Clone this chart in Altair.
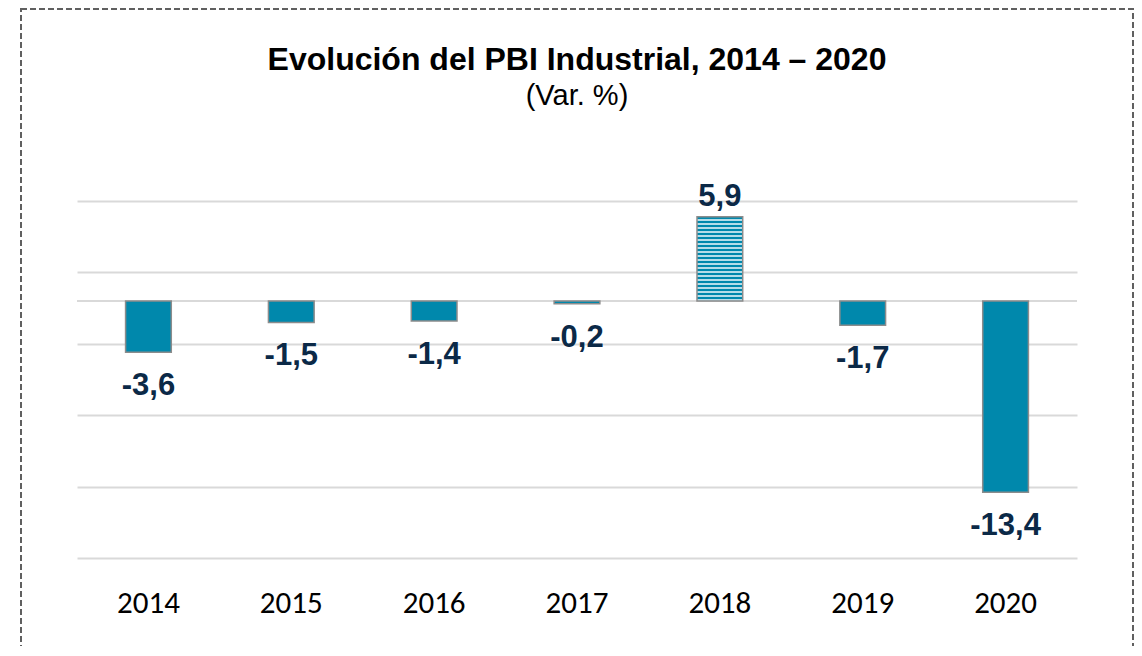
import altair as alt
import pandas as pd

years = ["2014", "2015", "2016", "2017", "2018", "2019", "2020"]
values = [-3.6, -1.5, -1.4, -0.2, 5.9, -1.7, -13.4]
grid_values = [7, 2, -3, -8, -13, -18]

df = pd.DataFrame({"year": years, "value": values})
df["label"] = [f"{v:.1f}".replace(".", ",") for v in values]

TEAL = "#0088AC"
LIGHT = "#B5DDE8"
LABEL_COLOR = "#0B2947"
BAR_STROKE = "#8C8C8C"

n_rows = 21
stops = []
for i in range(n_rows):
    a = i / n_rows
    b = (i + 0.55) / n_rows
    c = (i + 1) / n_rows
    stops += [
        alt.GradientStop(offset=a, color=TEAL),
        alt.GradientStop(offset=b, color=TEAL),
        alt.GradientStop(offset=b, color=LIGHT),
        alt.GradientStop(offset=c, color=LIGHT),
    ]
pattern = alt.LinearGradient(gradient="linear", stops=stops, x1=0, x2=0, y1=0, y2=1)

x_enc = alt.X(
    "year:N",
    sort=years,
    title=None,
    scale=alt.Scale(paddingInner=0.68, paddingOuter=0.34),
    axis=alt.Axis(
        orient="bottom",
        domain=False,
        ticks=False,
        grid=False,
        labelAngle=0,
        labelFont="Carlito, Lato",
        labelFontSize=31,
        labelColor="#000000",
        labelPadding=30,
    ),
)
y_scale = alt.Scale(domain=[-18, 7], nice=False, zero=False)
y_enc = alt.Y(
    "value:Q",
    title=None,
    scale=y_scale,
    axis=alt.Axis(
        values=grid_values,
        labels=False,
        ticks=False,
        domain=False,
        grid=True,
        gridColor="#D9D9D9",
        gridWidth=2,
        title=None,
    ),
)

base = alt.Chart(df)

bars = base.transform_filter(alt.datum.year != "2018").mark_bar(
    color=TEAL, stroke=BAR_STROKE, strokeWidth=1.5
).encode(x=x_enc, y=y_enc, y2=alt.datum(0))

bar2018 = base.transform_filter(alt.datum.year == "2018").mark_bar(
    color=pattern, stroke=BAR_STROKE, strokeWidth=1.5
).encode(x=x_enc, y=y_enc, y2=alt.datum(0))

zero = base.transform_filter(alt.datum.year == "2014").mark_rule(
    color="#D9D9D9", strokeWidth=2
).encode(x=alt.value(0), x2=alt.value(1000), y=alt.datum(0))

label_font = "Liberation Sans, Arial"
neg_labels = base.transform_filter(alt.datum.value < 0).mark_text(
    font=label_font, fontSize=31, fontWeight="bold", color=LABEL_COLOR,
    baseline="top", dy=19,
).encode(x=x_enc, y=y_enc, text="label:N")

pos_labels = base.transform_filter(alt.datum.value >= 0).mark_text(
    font=label_font, fontSize=31, fontWeight="bold", color=LABEL_COLOR,
    baseline="alphabetic", dy=-11,
).encode(x=x_enc, y=y_enc, text="label:N")

frame = alt.Chart(pd.DataFrame({"f": [0]})).mark_rect(
    filled=False, stroke="#606060", strokeWidth=2, strokeDash=[6, 3]
).encode(
    x=alt.value(-56), x2=alt.value(1056), y=alt.value(-192), y2=alt.value(520)
)

chart = (
    alt.layer(zero, bars, bar2018, neg_labels, pos_labels, frame)
    .properties(
        width=1000,
        height=357,
        autosize=alt.AutoSizeParams(type="none"),
        padding={"left": 69, "top": 193, "right": 57, "bottom": 88},
        title=alt.TitleParams(
            text="Evolución del PBI Industrial, 2014 – 2020",
            subtitle="(Var. %)",
            font="Liberation Sans, Arial",
            fontSize=32,
            fontWeight="bold",
            color="#000000",
            subtitleFont="Liberation Sans, Arial",
            subtitleFontSize=29,
            subtitleColor="#000000",
            subtitlePadding=5,
            anchor="middle",
            offset=-104,
        ),
    )
    .configure(background="white")
    .configure_view(stroke="transparent", strokeWidth=0)
)

chart.save("out.html", embed_options={"renderer": "svg", "actions": False})
